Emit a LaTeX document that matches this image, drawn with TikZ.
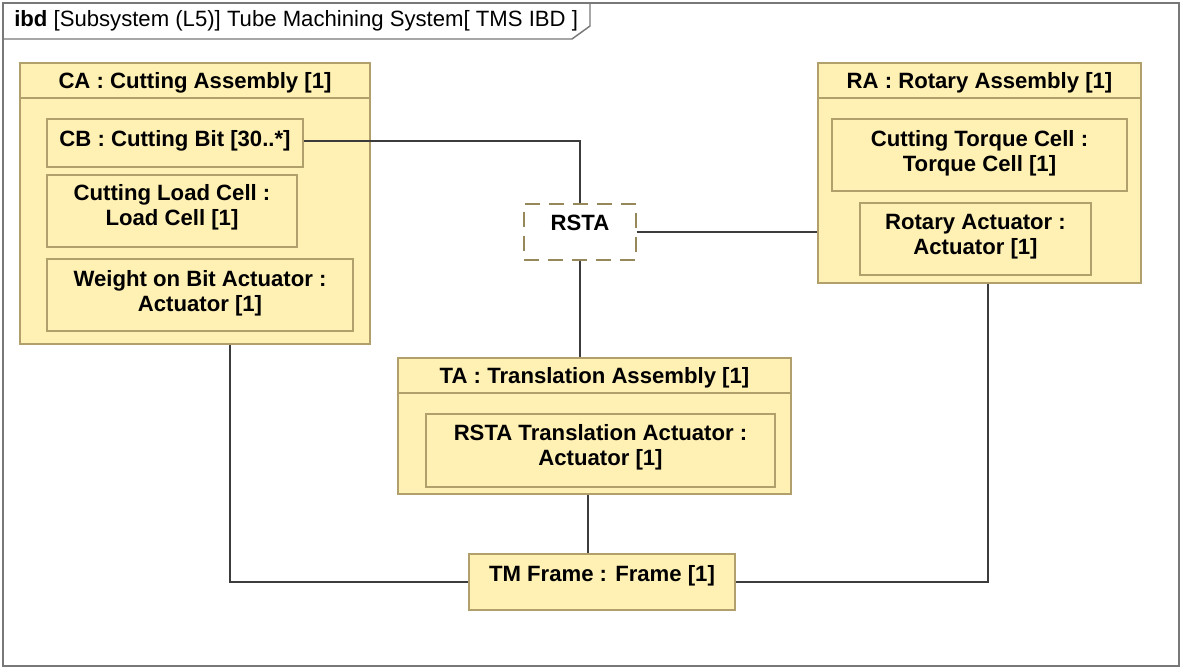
\documentclass[tikz,border=0pt]{standalone}
\usepackage{fontspec}
\setmainfont{Liberation Sans}
\usepackage{tikz}
\usetikzlibrary{calc,fit,positioning}
\definecolor{partFill}{RGB}{255,240,180}
\definecolor{partDraw}{RGB}{178,160,108}
\definecolor{frameGray}{RGB}{120,120,120}
\definecolor{linkGray}{RGB}{60,60,60}
\newcommand{\myIbdFont}{\fontsize{16.6}{18.75}\selectfont}
\tikzset{
myFrame/.style={
	draw=frameGray, line width=1.1pt
}
, myBlock/.style={
	rectangle, draw=partDraw, fill=partFill, line width=0.8pt,
	inner sep=0pt
}
, myPart/.style={
	rectangle, draw=partDraw, fill=partFill, line width=0.8pt,
	inner sep=0pt
}
, myRef/.style={
	rectangle, draw=partDraw!85!black, line width=0.8pt,
	dash pattern=on 11pt off 7pt, fill=white, inner sep=0pt
}
, myText/.style={
	font=\myIbdFont\bfseries, align=center, anchor=north,
	inner sep=0pt, text=black
}
% link
, myLink/.style={draw=linkGray, line width=0.8pt}
}

\begin{document}
\begin{tikzpicture}[x=0.75pt, y=-0.75pt]
	\useasboundingbox (0,0) rectangle (1181,668);
	% diagram frame
	\draw[myFrame] (3,3) rectangle (1179,666);
	\draw[myFrame] (3,39) -- (572,39) -- (590,26) -- (590,3);
	\node[font=\myIbdFont, anchor=base west, inner sep=0pt] (ibdTitle) at (14,26)
		{\textbf{ibd} [Subsystem (L5)] Tube Machining System[ TMS IBD ]};

	% blocks
	\node[myBlock, fit={(20,63) (370,344)}] (CA) {};
	\draw[draw=partDraw, line width=0.8pt] (CA.west |- 0,98) -- (CA.east |- 0,98);
	\node[myText] (CAtitle) at ($(CA.north)+(0,9.5)$) {CA : Cutting Assembly [1]};

	\node[myBlock, fit={(818,63) (1141,283)}] (RA) {};
	\draw[draw=partDraw, line width=0.8pt] (RA.west |- 0,98) -- (RA.east |- 0,98);
	\node[myText] (RAtitle) at ($(RA.north)+(0,9.5)$) {RA : Rotary Assembly [1]};

	\node[myBlock, fit={(398,358) (791,494)}] (TA) {};
	\draw[draw=partDraw, line width=0.8pt] (TA.west |- 0,393) -- (TA.east |- 0,393);
	\node[myText] (TAtitle) at ($(TA.north)+(0,9.5)$) {TA : Translation Assembly [1]};

	% parts
	\node[myPart, fit={(47,119) (303,167)}] (CB) {};
	\node[myText] (CBtext) at ($(CB.north)+(0,11.5)$) {CB : Cutting Bit [30..*]};
	\node[myPart, fit={(47,175) (297,247)}] (CLC) {};
	\node[myText] (CLCtext) at ($(CLC.north)+(0,9.5)$) {Cutting Load Cell :\\ Load Cell [1]};
	\node[myPart, fit={(47,259) (353,331)}] (WOB) {};
	\node[myText] (WOBtext) at ($(WOB.north)+(0,11.5)$) {Weight on Bit Actuator :\\ Actuator [1]};

	\node[myPart, fit={(832,119) (1127,191)}] (CTC) {};
	\node[myText] (CTCtext) at ($(CTC.north)+(0,11.5)$) {Cutting Torque Cell :\\ Torque Cell [1]};
	\node[myPart, fit={(860,203) (1091,275)}] (RAct) {};
	\node[myText] (RActtext) at ($(RAct.north)+(0,11.5)$) {Rotary Actuator :\\ Actuator [1]};

	\node[myPart, fit={(426,414) (775,487)}] (RTA) {};
	\node[myText] (RTAtext) at ($(RTA.north)+(0,10.5)$) {RSTA Translation Actuator :\\ Actuator [1]};

	\node[myPart, fit={(469,554) (735,610)}] (TMF) {};
	\node[myText] (TMFtext) at ($(TMF.north)+(0,11.5)$) {TM Frame : Frame [1]};

	% reference part
	\node[myRef, fit={(524,204) (636,260)}] (RSTA) {};
	\node[myText] (RSTAtext) at ($(RSTA.north)+(0,11)$) {RSTA};

	% links
	\draw[myLink] (CB.east |- 0,141) -- (580,141) -- (RSTA.north -| 580,0);
	\draw[myLink] (RSTA.east |- 0,232) -- (RA.west |- 0,232);
	\draw[myLink] (RSTA.south -| 580,0) -- (TA.north -| 580,0);
	\draw[myLink] (TA.south -| 588,0) -- (TMF.north -| 588,0);
	\draw[myLink] (CA.south -| 230,0) -- (230,582) -- (TMF.west |- 0,582);
	\draw[myLink] (RA.south -| 988,0) -- (988,582) -- (TMF.east |- 0,582);
\end{tikzpicture}
\end{document}
